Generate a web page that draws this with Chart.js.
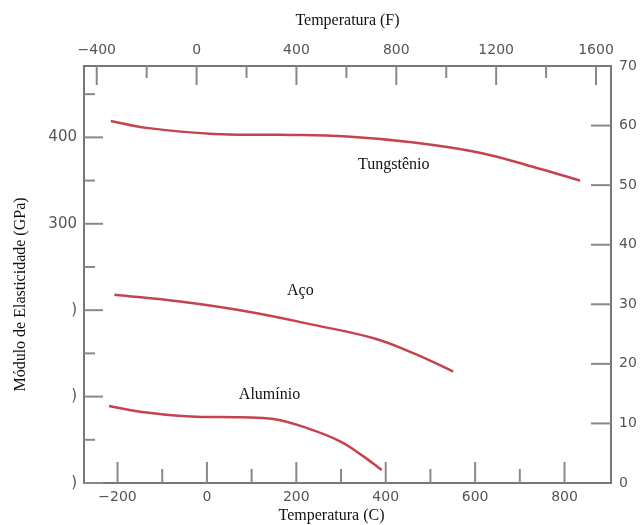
<!DOCTYPE html>
<html>
<head>
<meta charset="utf-8">
<script src="https://cdn.jsdelivr.net/npm/chart.js@4.4.1/dist/chart.umd.min.js"></script>
<style>
  html, body { margin: 0; padding: 0; background: #fff; }
  #wrap { width: 644px; height: 525px; }
</style>
</head>
<body>
<div id="wrap"><canvas id="chart" width="644" height="525"></canvas></div>
<script>
// Curvas: temperatura (°C) e módulo (GPa)
const tungstenioTemp = [-215, -135, 15, 164, 314, 463, 613, 725, 835];
const tungstenioMod  = [419, 411, 404, 403, 401, 394, 382, 366.5, 350];

const acoTemp = [-207, -60, 90, 239, 373, 463, 551];
const acoMod  = [218, 210, 198.5, 183, 167.5, 150, 129];

const aluminioTemp = [-219, -150, -37, 75, 149, 224, 299, 351, 391];
const aluminioMod  = [89, 82.5, 77, 76, 74, 63.5, 48, 30.5, 15];

// Rótulos das curvas (posição em unidades dos dados)
const curveNames = ['Tungstênio', 'Aço', 'Alumínio'];
const curveLabelTemp = [418, 209, 140];
const curveLabelMod  = [368, 222, 102];

// Eixos
const tempCMajor = [-200, 0, 200, 400, 600, 800];
const tempCMinor = [-100, 100, 300, 500, 700];
const tempFMajor = [-400, 0, 400, 800, 1200, 1600];
const tempFMinor = [-200, 200, 600, 1000, 1400];
const gpaMajor = [0, 100, 200, 300, 400];
const gpaMinor = [50, 150, 250, 350, 450];
const gpaLabels = [')', ')', ')', '300', '400'];
const psiMajor = [10, 20, 30, 40, 50, 60];

const toPoints = (xs, ys) => xs.map((x, i) => ({ x: x, y: ys[i] }));

const LINE_RED = '#c4434d';
const FRAME = '#777';
const TICK_COLOR = '#888';
const LABEL_GRAY = '#555';
const tickFont = { family: '"DejaVu Sans", sans-serif', size: 14 };
const titleFont = { family: '"Liberation Serif", serif', size: 16 };
// espaços no fim deslocam o título como na figura original
const EN = '\u2002';

// Marcas dos eixos desenhadas para dentro
const inwardTicks = {
    id: 'inwardTicks',
    beforeDatasetsDraw(chart) {
        const ctx = chart.ctx;
        const a = chart.chartArea;
        const s = chart.scales;
        ctx.save();
        ctx.strokeStyle = TICK_COLOR;
        ctx.lineWidth = 2;
        const vTick = (px, y0, len) => { ctx.beginPath(); ctx.moveTo(px, y0); ctx.lineTo(px, y0 + len); ctx.stroke(); };
        const hTick = (py, x0, len) => { ctx.beginPath(); ctx.moveTo(x0, py); ctx.lineTo(x0 + len, py); ctx.stroke(); };

        tempCMajor.forEach(v => vTick(s.x.getPixelForValue(v), a.bottom, -21));
        tempCMinor.forEach(v => vTick(s.x.getPixelForValue(v), a.bottom, -14));
        tempFMajor.forEach(v => vTick(s.x2.getPixelForValue(v), a.top, 19));
        tempFMinor.forEach(v => vTick(s.x2.getPixelForValue(v), a.top, 12));
        gpaMajor.forEach(v => hTick(s.y.getPixelForValue(v), a.left, 19));
        gpaMinor.forEach(v => hTick(s.y.getPixelForValue(v), a.left, 11));
        psiMajor.forEach(v => hTick(s.y2.getPixelForValue(v), a.right, -20));
        ctx.restore();
    }
};

// Nomes dos materiais junto às curvas
const curveLabels = {
    id: 'curveLabels',
    afterDatasetsDraw(chart) {
        const ctx = chart.ctx;
        ctx.save();
        ctx.fillStyle = '#111';
        ctx.font = '16px "Liberation Serif", serif';
        ctx.textAlign = 'center';
        ctx.textBaseline = 'middle';
        curveNames.forEach((name, i) => {
            ctx.fillText(name,
                chart.scales.x.getPixelForValue(curveLabelTemp[i]),
                chart.scales.y.getPixelForValue(curveLabelMod[i]));
        });
        ctx.restore();
    }
};

const lineStyle = {
    borderColor: LINE_RED,
    borderWidth: 2.5,
    pointRadius: 0,
    fill: false,
    tension: 0.4
};

const axisBase = {
    type: 'linear',
    grid: { display: true, drawOnChartArea: false, drawTicks: false },
    border: { display: true, color: FRAME, width: 2 }
};

const signed = v => (v < 0 ? '\u2212' + Math.abs(v) : String(v));

new Chart(document.getElementById('chart'), {
    type: 'line',
    data: {
        datasets: [
            Object.assign({ label: curveNames[0], data: toPoints(tungstenioTemp, tungstenioMod) }, lineStyle),
            Object.assign({ label: curveNames[1], data: toPoints(acoTemp, acoMod) }, lineStyle),
            Object.assign({ label: curveNames[2], data: toPoints(aluminioTemp, aluminioMod) }, lineStyle)
        ]
    },
    options: {
        responsive: false,
        animation: false,
        layout: { padding: 0 },
        plugins: { legend: { display: false }, tooltip: { enabled: false } },
        scales: {
            x: Object.assign({}, axisBase, {
                position: 'bottom',
                min: -275,
                max: 904,
                afterBuildTicks: s => { s.ticks = tempCMajor.map(v => ({ value: v })); },
                afterFit: s => { s.height = 42; },
                ticks: { font: tickFont, color: LABEL_GRAY, padding: 6, maxRotation: 0, callback: signed },
                title: { display: true, text: 'Temperatura (C)' + EN.repeat(4), font: titleFont, color: '#111',
                         padding: { top: 0, bottom: 0 } }
            }),
            x2: Object.assign({}, axisBase, {
                position: 'top',
                min: -451,
                max: 1660,
                afterBuildTicks: s => { s.ticks = tempFMajor.map(v => ({ value: v })); },
                afterFit: s => { s.height = 66; },
                ticks: { font: tickFont, color: LABEL_GRAY, padding: 7, maxRotation: 0, callback: signed },
                title: { display: true, text: 'Temperatura (F)', font: titleFont, color: '#111',
                         padding: { top: 11, bottom: 0 } }
            }),
            y: Object.assign({}, axisBase, {
                position: 'left',
                min: 0,
                max: 482.6,
                afterBuildTicks: s => { s.ticks = gpaMajor.map(v => ({ value: v })); },
                afterFit: s => { s.width = 84; },
                ticks: { font: { family: tickFont.family, size: 15 }, color: LABEL_GRAY, padding: 7,
                         callback: v => gpaLabels[gpaMajor.indexOf(v)] },
                title: { display: true, text: 'Módulo de Elasticidade (GPa)' + EN.repeat(5), font: titleFont, color: '#111',
                         padding: { top: 11, bottom: 0 } }
            }),
            y2: Object.assign({}, axisBase, {
                position: 'right',
                min: 0,
                max: 70,
                afterFit: s => { s.width = 33; },
                ticks: { font: tickFont, color: LABEL_GRAY, padding: 8, stepSize: 10 }
            })
        }
    },
    plugins: [inwardTicks, curveLabels]
});
</script>
</body>
</html>
